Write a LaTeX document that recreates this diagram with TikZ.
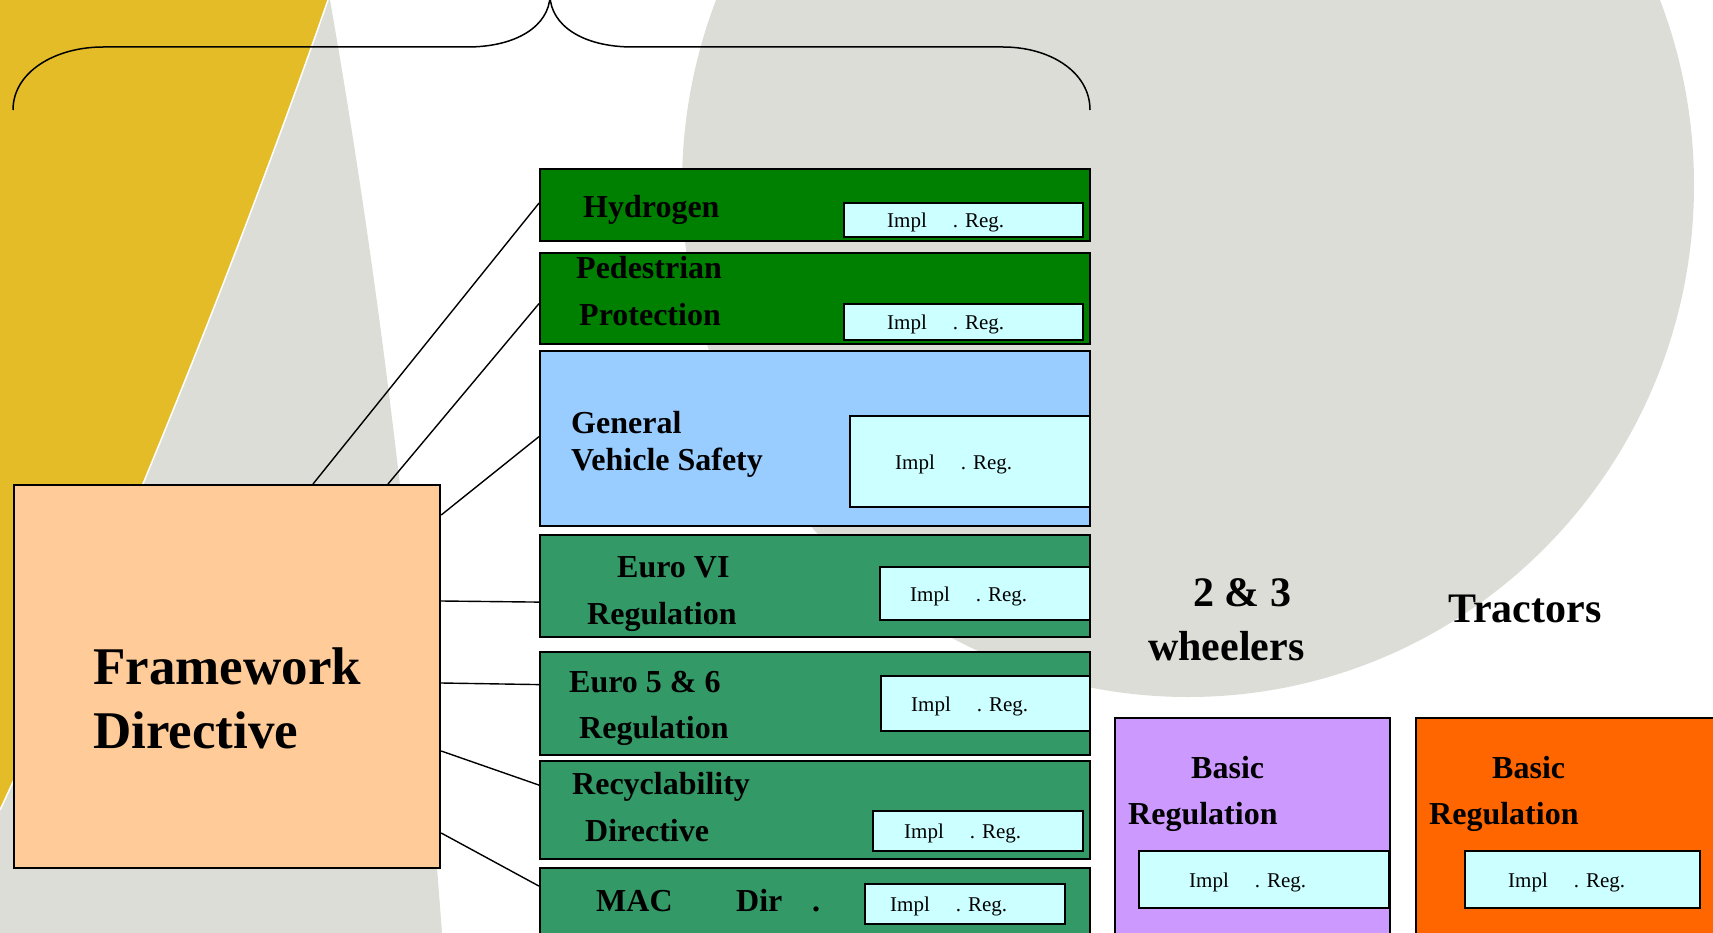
\documentclass[tikz,border=0pt]{standalone}
\usepackage{fontspec}
\setmainfont{Liberation Serif}
\usetikzlibrary{calc}
\definecolor{bggray}{RGB}{220,221,215}
\definecolor{gold}{RGB}{227,188,40}
\definecolor{peach}{RGB}{255,204,153}
\definecolor{darkgreen}{RGB}{0,128,0}
\definecolor{seagreen}{RGB}{51,153,102}
\definecolor{skyblue}{RGB}{153,204,255}
\definecolor{implcyan}{RGB}{204,255,255}
\definecolor{lilac}{RGB}{204,153,255}
\definecolor{tractorange}{RGB}{255,102,0}

\begin{document}
\begin{tikzpicture}[x=1pt,y=1pt,yscale=-1,
  box/.style={draw=black,line width=2.2pt,anchor=north west,inner sep=0pt},
  implbox/.style={draw=black,line width=1.8pt,fill=implcyan,anchor=north west,inner sep=0pt},
  title/.style={anchor=base west,inner sep=0pt,font=\fontsize{32}{38}\selectfont\bfseries},
  bigtitle/.style={anchor=base west,inner sep=0pt,font=\fontsize{53}{64}\selectfont\bfseries},
  grouptitle/.style={anchor=base west,inner sep=0pt,font=\fontsize{42}{50}\selectfont\bfseries},
  impltext/.style={anchor=base west,inner sep=0pt,font=\fontsize{21}{25}\selectfont},
  link/.style={line width=1.4pt}]
\useasboundingbox (0,0) rectangle (1713,933);
\clip (0,0) rectangle (1713,933);

%Background shapes
\fill[bggray] (330,0) .. controls (365,200) and (410,500) .. (442,933) -- (0,933) -- (0,810) .. controls (135,520) and (255,210) .. (328,0) -- cycle;
\fill[gold] (0,0) -- (328,0) .. controls (255,210) and (135,520) .. (0,810) -- cycle;
\draw[white,line width=1.5pt] (328,0) .. controls (255,210) and (135,520) .. (0,810);
\fill[bggray] (1188,185) ellipse [x radius=506, y radius=512];

%Brace
\draw[line width=1.5pt] (13,110) .. controls (13,72) and (55,47) .. (103,47) -- (467,47) .. controls (518,47) and (549,25) .. (550,-4) .. controls (551,25) and (582,47) .. (633,47) -- (1003,47) .. controls (1050,47) and (1090,72) .. (1090,110);

%Framework box
\node[box,fill=peach,minimum width=426pt,minimum height=383pt] (fw) at (13,484) {};

%Directive column
\node[box,fill=darkgreen,minimum width=550pt,minimum height=72pt] (hyd) at (539,168) {};
\node[box,fill=darkgreen,minimum width=550pt,minimum height=91pt] (ped) at (539,252) {};
\node[box,fill=skyblue,minimum width=550pt,minimum height=175pt] (gvs) at (539,350) {};
\node[box,fill=seagreen,minimum width=550pt,minimum height=102pt] (eu6) at (539,534) {};
\node[box,fill=seagreen,minimum width=550pt,minimum height=103pt] (eu5) at (539,651) {};
\node[box,fill=seagreen,minimum width=550pt,minimum height=98pt] (rec) at (539,760) {};
\node[box,fill=seagreen,minimum width=550pt,minimum height=90pt] (mac) at (539,867) {};

%Other vehicle boxes
\node[box,fill=lilac,minimum width=275pt,minimum height=230pt] (two) at (1114,717) {};
\node[box,fill=tractorange,minimum width=320pt,minimum height=230pt] (tra) at (1415,717) {};

%Implementing regulation boxes
\node[implbox,minimum width=239pt,minimum height=34pt] (hydI) at (843,202) {};
\node[implbox,minimum width=239pt,minimum height=36pt] (pedI) at (843,303) {};
\node[implbox,minimum width=240pt,minimum height=91pt] (gvsI) at (849,415) {};
\node[implbox,minimum width=210pt,minimum height=53pt] (eu6I) at (879,566) {};
\node[implbox,minimum width=209pt,minimum height=55pt] (eu5I) at (880,675) {};
\node[implbox,minimum width=210pt,minimum height=40pt] (recI) at (872,810) {};
\node[implbox,minimum width=200pt,minimum height=40pt] (macI) at (864,883) {};
\node[implbox,minimum width=250pt,minimum height=57pt] (twoI) at (1138,850) {};
\node[implbox,minimum width=235pt,minimum height=57pt] (traI) at (1464,850) {};

%Links
\draw[link] ($(fw.north west)+(300,0)$) -- ($(hyd.west)+(0,-2)$);
\draw[link] ($(fw.north west)+(375,0)$) -- ($(ped.west)+(0,5)$);
\draw[link] ($(fw.north east)+(0,31)$) -- ($(gvs.west)+(0,-2)$);
\draw[link] ($(fw.north east)+(0,117)$) -- ($(eu6.west)+(0,16)$);
\draw[link] ($(fw.north east)+(0,199)$) -- ($(eu5.west)+(0,-19)$);
\draw[link] ($(fw.north east)+(0,267)$) -- ($(rec.west)+(0,-25)$);
\draw[link] ($(fw.north east)+(0,349)$) -- ($(mac.west)+(0,-27)$);

% Text Node
\node[bigtitle] (fwA) at (93,684) {Framework};
\node[bigtitle] (fwB) at (93,748) {Directive};
% Text Node
\node[title] (hydA) at (583,218) {Hydrogen};
\node[title] (pedA) at (576,279) {Pedestrian};
\node[title] (pedB) at (579,325) {Protection};
\node[title] (gvsA) at (571,433) {General};
\node[title] (gvsB) at (571,470) {Vehicle Safety};
\node[title] (eu6A) at (617,577) {Euro VI};
\node[title] (eu6B) at (587,624) {Regulation};
\node[title] (eu5A) at (569,692) {Euro 5 \& 6};
\node[title] (eu5B) at (579,738) {Regulation};
\node[title] (recA) at (572,794) {Recyclability};
\node[title] (recB) at (585,841) {Directive};
\node[title] (macA) at (596,911) {MAC};
\node[title] (macB) at (736,911) {Dir};
\node[title] (macC) at (812,911) {.};
% Text Node
\node[grouptitle] (twoA) at (1193,606) {2 \& 3};
\node[grouptitle] (twoB) at (1148,660) {wheelers};
\node[grouptitle] (traA) at (1448,622) {Tractors};
\node[title] (twoC) at (1191,778) {Basic};
\node[title] (twoD) at (1128,824) {Regulation};
\node[title] (traB) at (1492,778) {Basic};
\node[title] (traC) at (1429,824) {Regulation};
% Text Node
\node[impltext] (hydT) at ($(hydI.west)+(44,8)$) {Impl\hspace{26pt}. Reg.};
\node[impltext] (pedT) at ($(pedI.west)+(44,8)$) {Impl\hspace{26pt}. Reg.};
\node[impltext] (gvsT) at ($(gvsI.west)+(46,8)$) {Impl\hspace{26pt}. Reg.};
\node[impltext] (eu6T) at ($(eu6I.west)+(31,8)$) {Impl\hspace{26pt}. Reg.};
\node[impltext] (eu5T) at ($(eu5I.west)+(31,8)$) {Impl\hspace{26pt}. Reg.};
\node[impltext] (recT) at ($(recI.west)+(32,8)$) {Impl\hspace{26pt}. Reg.};
\node[impltext] (macT) at ($(macI.west)+(26,8)$) {Impl\hspace{26pt}. Reg.};
\node[impltext] (twoT) at ($(twoI.west)+(51,8)$) {Impl\hspace{26pt}. Reg.};
\node[impltext] (traT) at ($(traI.west)+(44,8)$) {Impl\hspace{26pt}. Reg.};
\end{tikzpicture}
\end{document}
